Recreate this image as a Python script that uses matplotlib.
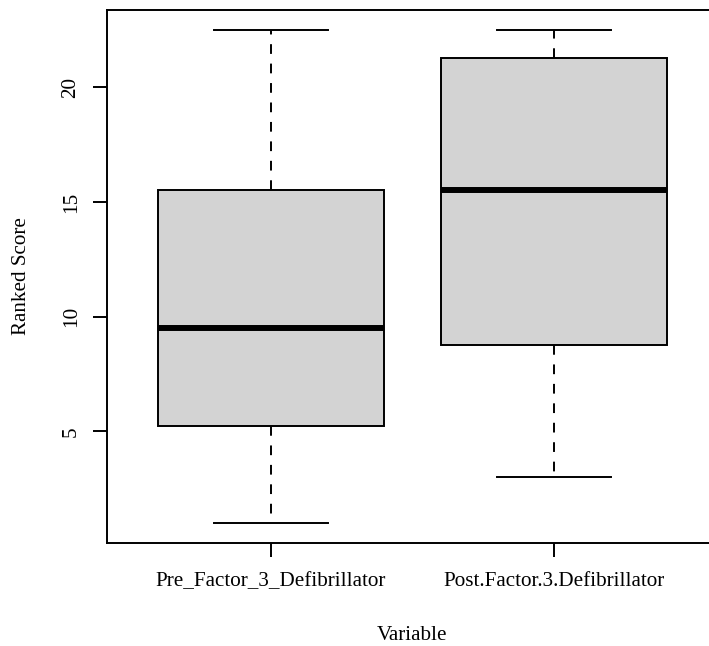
import matplotlib
matplotlib.use("Agg")
import matplotlib.pyplot as plt

plt.rcParams['font.family'] = ['Liberation Serif', 'DejaVu Serif']

labels = ['Pre_Factor_3_Defibrillator', 'Post.Factor.3.Defibrillator']
whislo = [1, 3]
q1 = [5.25, 8.75]
med = [9.5, 15.5]
q3 = [15.5, 21.25]
whishi = [22.5, 22.5]

stats = []
for lab, lo, a, m, b, hi in zip(labels, whislo, q1, med, q3, whishi):
    stats.append({'label': lab, 'whislo': lo, 'q1': a, 'med': m, 'q3': b, 'whishi': hi, 'fliers': []})

fig = plt.figure(figsize=(7.09, 6.46), dpi=100)
W, H = 709, 646
# right border of the R plot region falls just outside the image
ax = fig.add_axes([107 / W, 1 - 543 / H, (718 - 107) / W, (543 - 10) / H])

lw = 1.4
ax.bxp(stats, positions=[1, 2], widths=0.8, patch_artist=True, showfliers=False,
       boxprops=dict(facecolor='#d3d3d3', edgecolor='black', linewidth=lw),
       whiskerprops=dict(color='black', linewidth=lw, linestyle=(0, (5, 5))),
       capprops=dict(color='black', linewidth=lw),
       capwidths=0.4,
       medianprops=dict(color='black', linewidth=4.3, solid_capstyle='butt'))

ax.set_xlim(0.42, 2.58)
ax.set_ylim(0.14, 23.36)
ax.set_yticks([5, 10, 15, 20])
ax.set_yticklabels(['5', '10', '15', '20'], rotation=90, va='center')
ax.set_xticks([1, 2])
ax.set_xticklabels(labels)
ax.tick_params(axis='both', length=10, width=lw, labelsize=15.2, color='black')
ax.tick_params(axis='x', pad=11)
ax.tick_params(axis='y', pad=9)
for s in ax.spines.values():
    s.set_linewidth(lw)

ax.set_xlabel('Variable', fontsize=15.2, labelpad=25)
ax.set_ylabel('Ranked Score', fontsize=15.2, labelpad=22)

fig.savefig('out.png', dpi=100)
